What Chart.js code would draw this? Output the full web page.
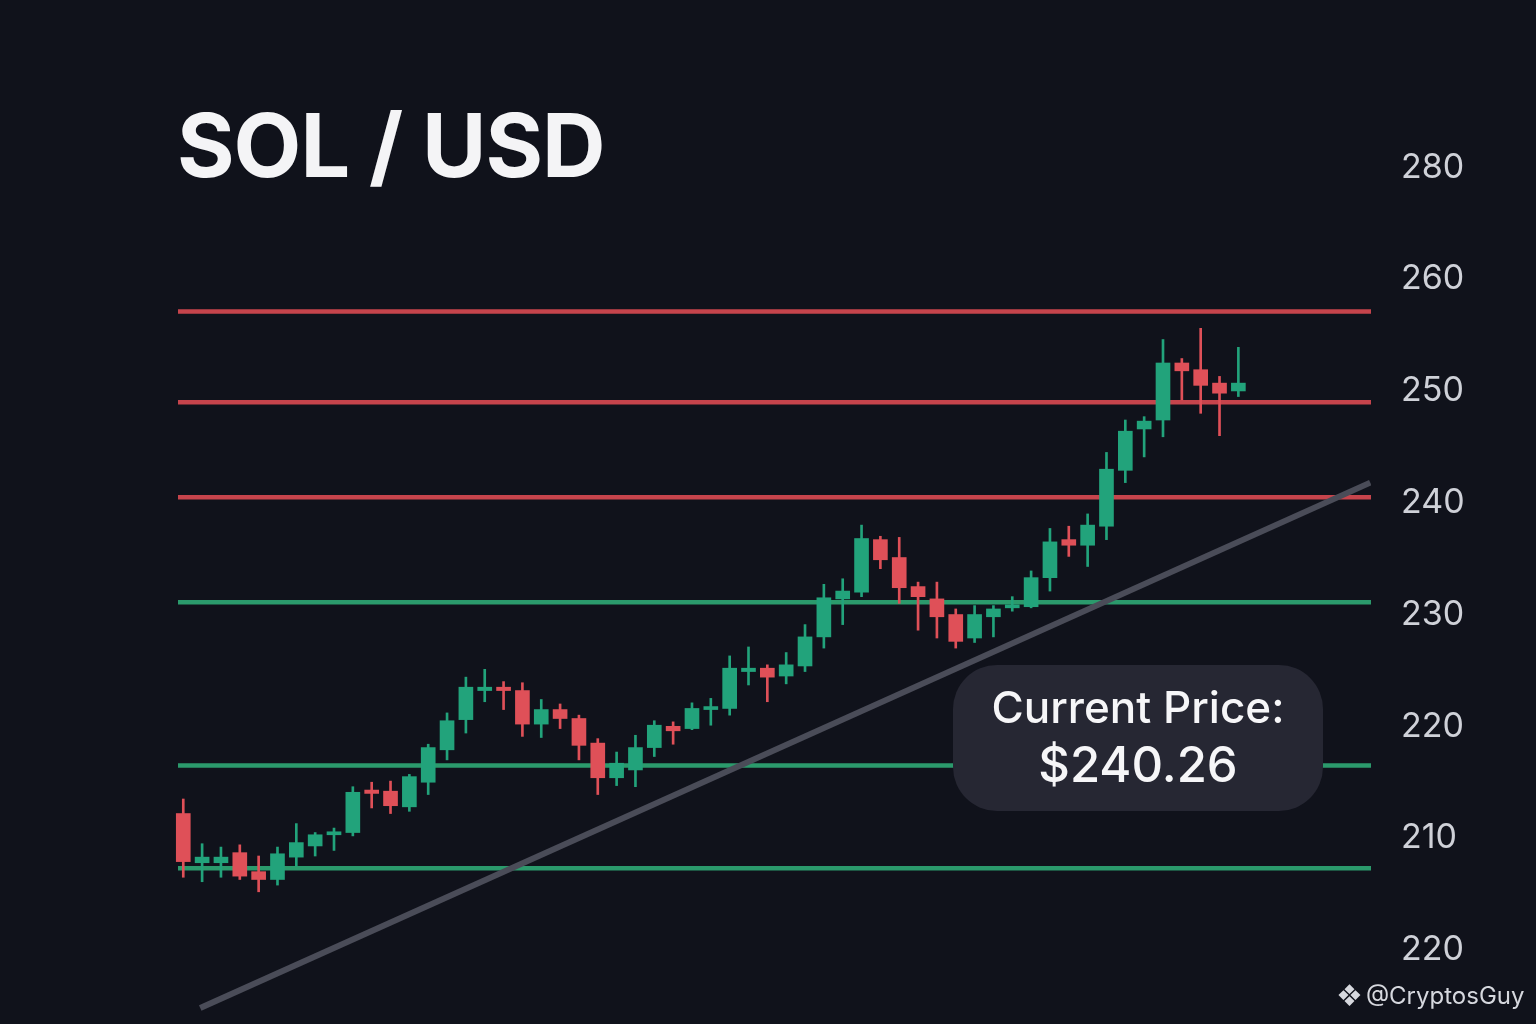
<!DOCTYPE html>
<html>
<head>
<meta charset="utf-8">
<title>SOL / USD</title>
<script src="https://cdn.jsdelivr.net/npm/chart.js@4.4.0/dist/chart.umd.min.js"></script>
<style>
  html, body { margin: 0; padding: 0; background: #10121b; }
  #wrap { position: relative; width: 1536px; height: 1024px; overflow: hidden; font-family: Inter, "Noto Sans", sans-serif; }
  #chart { position: absolute; left: 0; top: 0; }
  .title { position: absolute; left: 177px; top: 101px; font-size: 88px; line-height: 88px; font-weight: 700; letter-spacing: -1px; color: #f4f4f6; white-space: nowrap; }
  .price-box { position: absolute; left: 953px; top: 665px; width: 370px; height: 146px; border-radius: 44px; background: #262733; color: #f6f6f8; text-align: center; }
  .price-box span { position: absolute; left: 0; width: 100%; white-space: nowrap; }
  .price-label { top: 17px; font-size: 44px; line-height: 50px; font-weight: 500; }
  .price-value { top: 66px; font-size: 49px; line-height: 68px; font-weight: 500; }
  .credit { position: absolute; left: 1336px; top: 981px; font-size: 24px; line-height: 30px; color: #d6d8de; white-space: nowrap; }
  .credit .logo { font-family: "DejaVu Sans", sans-serif; font-size: 30px; margin-right: 3px; vertical-align: -2px; }
</style>
</head>
<body>
<div id="wrap">
  <canvas id="chart" width="1536" height="1024"></canvas>
  <div class="title">SOL / USD</div>
  <div class="price-box">
    <span class="price-label">Current Price:</span>
    <span class="price-value">$240.26</span>
  </div>
  <div class="credit"><span class="logo">❖</span>@CryptosGuy</div>
</div>
<script>
// candle values, one entry per session (left to right)
const candleOpen = [212.2, 207.8, 207.8, 208.7, 207.0, 206.3, 208.3, 209.3, 210.3, 210.5,
  214.3, 214.2, 212.8, 215.0, 217.9, 220.6, 223.2, 223.5, 223.2, 220.2,
  221.5, 220.7, 218.5, 215.4, 216.1, 218.1, 220.0, 219.8, 221.5, 221.6,
  224.9, 225.2, 224.5, 225.4, 228.0, 231.4, 232.0, 236.7, 235.1, 232.5,
  231.4, 230.0, 227.9, 229.8, 230.6, 230.7, 233.3, 236.7, 236.2, 237.9,
  242.9, 246.6, 247.4, 252.5, 251.9, 250.7, 250.0];
const candleHigh = [213.5, 209.5, 209.2, 209.4, 208.4, 209.2, 211.3, 210.5, 210.9, 214.6,
  215.0, 215.1, 215.7, 218.4, 221.2, 224.4, 225.1, 224.0, 223.9, 222.4,
  222.0, 221.0, 218.9, 217.7, 219.2, 220.5, 220.4, 222.1, 222.5, 226.3,
  227.1, 225.5, 226.6, 229.1, 232.7, 233.2, 238.0, 237.0, 236.9, 232.9,
  232.9, 230.5, 230.8, 230.8, 231.6, 233.9, 237.7, 237.9, 239.0, 244.5,
  247.4, 247.7, 254.6, 252.9, 255.6, 251.3, 253.9];
const candleLow = [206.5, 206.1, 206.5, 206.3, 205.2, 205.8, 207.5, 208.4, 208.9, 210.2,
  212.7, 212.2, 212.4, 213.9, 217.0, 219.4, 222.2, 221.5, 219.1, 219.0,
  219.8, 217.0, 213.9, 214.7, 214.6, 217.3, 218.4, 219.7, 220.1, 221.0,
  223.7, 222.2, 223.8, 224.9, 227.0, 229.1, 231.6, 234.1, 231.0, 228.6,
  227.9, 227.0, 227.5, 228.0, 230.3, 230.6, 232.1, 235.2, 234.3, 236.7,
  241.8, 244.1, 245.9, 249.2, 248.0, 246.0, 249.5];
const candleClose = [207.9, 208.3, 208.3, 206.6, 206.3, 208.6, 209.6, 210.3, 210.5, 214.1,
  214.0, 212.9, 215.5, 218.1, 220.5, 223.5, 223.5, 223.2, 220.2, 221.5,
  220.7, 218.3, 215.4, 216.7, 218.1, 220.1, 219.6, 221.6, 221.7, 225.2,
  225.2, 224.4, 225.5, 228.0, 231.5, 232.1, 236.8, 234.9, 232.4, 231.6,
  229.8, 227.6, 230.0, 230.5, 230.8, 233.3, 236.5, 236.2, 238.0, 243.0,
  246.4, 247.3, 252.5, 251.8, 250.5, 249.8, 250.7];

// horizontal levels
const resistanceLevels = [257.1, 249.0, 240.5];
const supportLevels = [231.1, 216.5, 207.3];

// rising trend line (session index -> price)
const trendX = [0.9, 63.0];
const trendY = [194.8, 241.8];

// price axis: tick positions and the labels printed beside them
const yTickValues = [270, 260, 250, 240, 230, 220, 210, 200];
const yTickLabels = ['280', '260', '250', '240', '230', '220', '210', '220'];

const GREEN = '#22a37b';
const RED = '#df5058';
const xMin = -0.28;
const xMax = 63.04;

const idx = candleOpen.map((_, i) => i);
const candleColors = idx.map(i => candleClose[i] >= candleOpen[i] ? GREEN : RED);

const levelLine = (y, color) => ({
  type: 'line',
  data: [{ x: xMin, y: y }, { x: xMax, y: y }],
  borderColor: color,
  borderWidth: 4.5,
  pointRadius: 0,
  order: 4
});

const datasets = [
  ...resistanceLevels.map(v => levelLine(v, '#c6444c')),
  ...supportLevels.map(v => levelLine(v, '#2b9a6c')),
  {
    type: 'line',
    data: trendX.map((x, i) => ({ x: x, y: trendY[i] })),
    borderColor: '#4a4c58',
    borderWidth: 6,
    pointRadius: 0,
    order: 3
  },
  {
    // wicks
    data: idx.map(i => ({ x: i, y: [candleLow[i], candleHigh[i]] })),
    backgroundColor: candleColors,
    barThickness: 2,
    grouped: false,
    clip: false,
    order: 2
  },
  {
    // bodies
    data: idx.map(i => ({ x: i, y: [candleOpen[i], candleClose[i]] })),
    backgroundColor: candleColors,
    barThickness: 14,
    minBarLength: 3,
    grouped: false,
    clip: false,
    order: 1
  }
];

new Chart(document.getElementById('chart'), {
  type: 'bar',
  data: { datasets: datasets },
  options: {
    responsive: false,
    animation: false,
    layout: { padding: { left: 178, right: 0, top: 145, bottom: 7 } },
    plugins: {
      legend: { display: false },
      tooltip: { enabled: false },
      title: { display: false }
    },
    scales: {
      x: {
        type: 'linear',
        min: xMin,
        max: xMax,
        offset: false,
        display: false
      },
      y: {
        position: 'right',
        min: 194,
        max: 272,
        grid: { display: false, drawTicks: false },
        border: { display: false },
        afterBuildTicks: axis => {
          axis.ticks = yTickValues.map(v => ({ value: v }));
        },
        afterFit: axis => {
          axis.width = 165;
          // labels sit well inside the range, no extra room needed above/below
          axis.paddingTop = 0;
          axis.paddingBottom = 0;
        },
        ticks: {
          padding: 30,
          color: '#cfd1d8',
          font: { family: 'Inter', size: 34, weight: '400' },
          callback: value => yTickLabels[yTickValues.indexOf(value)]
        }
      }
    }
  }
});
</script>
</body>
</html>
